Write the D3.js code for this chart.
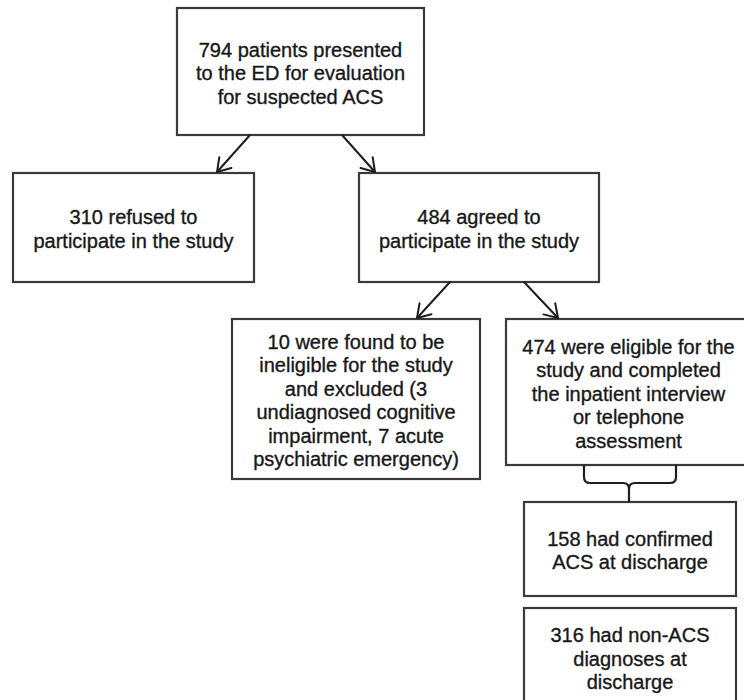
<!DOCTYPE html>
<html>
<head>
<meta charset="utf-8">
<script src="https://cdn.jsdelivr.net/npm/d3@7"></script>
<style>
  body { margin: 0; background: #fff; }
  svg { display: block; }
</style>
</head>
<body>
<svg id="flow" width="744" height="700"></svg>
<script>
// Flow steps: ids, counts and the wrapped label lines
const stepIds = ["presented", "refused", "agreed", "ineligible", "eligible", "acs", "nonAcs"];
const stepCounts = [794, 310, 484, 10, 474, 158, 316];
const stepLines = [
  ["794 patients presented", "to the ED for evaluation", "for suspected ACS"],
  ["310 refused to", "participate in the study"],
  ["484 agreed to", "participate in the study"],
  ["10 were found to be", "ineligible for the study", "and excluded (3", "undiagnosed cognitive", "impairment, 7 acute", "psychiatric emergency)"],
  ["474 were eligible for the", "study and completed", "the inpatient interview", "or telephone", "assessment"],
  ["158 had confirmed", "ACS at discharge"],
  ["316 had non-ACS", "diagnoses at", "discharge"]
];
// Arrows between steps
const arrowLinks = [
  ["presented", "refused"],
  ["presented", "agreed"],
  ["agreed", "ineligible"],
  ["agreed", "eligible"]
];
// Brace split of the eligible group
const braceFrom = "eligible";
const braceTo = "acs";

// Layout (pixel boxes) kept apart from the data
const layout = {
  presented:  { x: 177, y: 8,   w: 247, h: 127, ax: [250, 342], tx: [217, 375] },
  refused:    { x: 13,  y: 173, w: 241, h: 109 },
  agreed:     { x: 359, y: 173, w: 240, h: 109, ax: [450, 524], tx: [417, 558] },
  ineligible: { x: 232, y: 319, w: 248, h: 160 },
  eligible:   { x: 506, y: 319, w: 245, h: 146 },
  acs:        { x: 524, y: 502, w: 212, h: 94 },
  nonAcs:     { x: 524, y: 608, w: 212, h: 98 }
};

const steps = stepIds.map((id, i) => ({ id, count: stepCounts[i], lines: stepLines[i], ...layout[id] }));
const byId = new Map(steps.map(d => [d.id, d]));

const svg = d3.select("#flow");
const lineH = 23.5;
const stroke = "#3a3a3a";

// Boxes
const node = svg.selectAll("g.step")
  .data(steps)
  .enter()
  .append("g")
  .attr("class", "step");

node.append("rect")
  .attr("x", d => d.x)
  .attr("y", d => d.y)
  .attr("width", d => d.w)
  .attr("height", d => d.h)
  .attr("fill", "#fff")
  .attr("stroke", stroke)
  .attr("stroke-width", 2.2);

node.append("text")
  .attr("text-anchor", "middle")
  .style("font-family", "'Liberation Sans', Arial, sans-serif")
  .style("font-size", "20px")
  .style("fill", "#181818")
  .style("stroke", "#181818")
  .style("stroke-width", 0.35)
  .selectAll("tspan")
  .data(d => d.lines.map((t, i) => ({ t, i, d })))
  .enter()
  .append("tspan")
  .attr("x", o => o.d.x + o.d.w / 2)
  .attr("y", o => o.d.y + o.d.h / 2 + 1.5 + (o.i - (o.d.lines.length - 1) / 2) * lineH)
  .attr("dy", "0.35em")
  .text(o => o.t);

// Arrows with open V heads
const arrows = arrowLinks.map(([s, t]) => {
  const src = byId.get(s), tgt = byId.get(t);
  const k = arrowLinks.filter(l => l[0] === s).findIndex(l => l[1] === t);
  return { x1: src.ax[k], y1: src.y + src.h, x2: src.tx[k], y2: tgt.y - 1 };
});

const arrowG = svg.append("g")
  .attr("stroke", "#1e1e1e")
  .attr("stroke-width", 2)
  .attr("fill", "none")
  .attr("stroke-linecap", "round")
  .attr("stroke-linejoin", "round");

arrowG.selectAll("line")
  .data(arrows)
  .enter()
  .append("line")
  .attr("x1", d => d.x1)
  .attr("y1", d => d.y1)
  .attr("x2", d => d.x2)
  .attr("y2", d => d.y2);

const headLen = 15, headAng = Math.PI / 5.5;
arrowG.selectAll("path.head")
  .data(arrows)
  .enter()
  .append("path")
  .attr("class", "head")
  .attr("d", d => {
    const a = Math.atan2(d.y2 - d.y1, d.x2 - d.x1);
    const p1 = [d.x2 - headLen * Math.cos(a - headAng), d.y2 - headLen * Math.sin(a - headAng)];
    const p2 = [d.x2 - headLen * Math.cos(a + headAng), d.y2 - headLen * Math.sin(a + headAng)];
    return `M${p1}L${d.x2},${d.y2}L${p2}`;
  });

// Curly brace joining the eligible box to the outcome boxes
const bf = byId.get(braceFrom), bt = byId.get(braceTo);
const bl = 584, br = 676, by0 = bf.y + bf.h, byH = by0 + 18, cx = bt.x + bt.w / 2 - 1, r = 6;
const brace = d3.path();
brace.moveTo(bl, by0);
brace.lineTo(bl, byH - r);
brace.quadraticCurveTo(bl, byH, bl + r, byH);
brace.lineTo(cx - r, byH);
brace.quadraticCurveTo(cx, byH, cx, byH + r);
brace.lineTo(cx, bt.y);
brace.moveTo(br, by0);
brace.lineTo(br, byH - r);
brace.quadraticCurveTo(br, byH, br - r, byH);
brace.lineTo(cx + r, byH);
brace.quadraticCurveTo(cx, byH, cx, byH + r);

svg.append("path")
  .attr("d", brace.toString())
  .attr("fill", "none")
  .attr("stroke", "#1e1e1e")
  .attr("stroke-width", 2.2);
</script>
</body>
</html>
